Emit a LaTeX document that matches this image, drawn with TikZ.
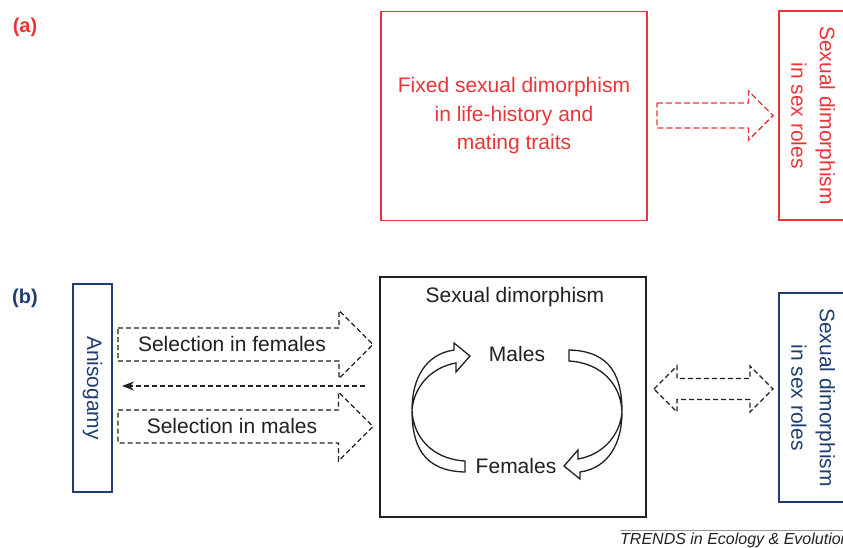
\documentclass[tikz,border=0pt]{standalone}
\usepackage{fontspec}
\setmainfont{Liberation Sans}
\usepackage{tikz}
\usetikzlibrary{
    arrows.meta,
    positioning,
    calc
}
\definecolor{Cred}{RGB}{236, 52, 56}
\definecolor{Cnavy}{RGB}{31, 61, 110}
\definecolor{Cink}{RGB}{35, 31, 32}
\definecolor{Crule}{RGB}{150, 150, 150}
\tikzset{
    redbox/.style={
        rectangle, draw=Cred, line width=1.8pt, text=Cred,
        align=center, font=\fontsize{21}{28.5}\selectfont, inner sep=0pt
    },
    navybox/.style={
        rectangle, draw=Cnavy, line width=1.5pt, text=Cnavy,
        align=center, font=\fontsize{21}{28.5}\selectfont, inner sep=0pt
    },
    inkbox/.style={
        rectangle, draw=Cink, line width=1.6pt, inner sep=0pt
    },
    lbl/.style={text=Cink, font=\fontsize{21}{25}\selectfont, inner sep=0pt},
    tag/.style={font=\fontsize{20}{24}\selectfont\bfseries, inner sep=0pt},
    redarr/.style={draw=Cred, line width=1.4pt, dash pattern=on 6pt off 3pt},
    inkarr/.style={draw=Cink, line width=1.3pt, dash pattern=on 5pt off 3pt},
    dasharr/.style={Cink, line width=1.3pt, dash pattern=on 5pt off 3pt,
        -{Stealth[length=12pt, width=9pt]}},
    ribbon/.style={draw=Cink, fill=white, line width=1.3pt, line join=miter},
}
% block arrow: style, tail, tip, half shaft, half head
\newcommand{\fatarrow}[5]{%
    \draw[#1] ($(#2)+(0,-#4)$) -- ($(#3)+(-#5,-#4)$) -- ($(#3)+(-#5,-#5)$)
        -- (#3) -- ($(#3)+(-#5,#5)$) -- ($(#3)+(-#5,#4)$) -- ($(#2)+(0,#4)$) -- cycle;}

\begin{document}
\begin{tikzpicture}[x=1pt, y=-1pt]

    \useasboundingbox (0,0) rectangle (843,547);
    \clip (0,0) rectangle (843,547);

    % (a) fixed dimorphism
    \node[tag, text=Cred] (taga) at (25,27) {(a)};
    \node[redbox, minimum width=266pt, minimum height=209pt]
        (fixed) at (514,116) {Fixed sexual dimorphism\\in life-history and\\mating traits};
    \node[redbox, rotate=-90, minimum width=209pt, minimum height=68pt]
        (rolesa) at (813,115.5) {Sexual dimorphism\\in sex roles};

    \coordinate (fa0) at (657,115.5);
    \coordinate (fa1) at (773,115.5);
    \fatarrow{redarr}{fa0}{fa1}{12.5}{24.5}

    % (b) coevolution
    \node[tag, text=Cnavy] (tagb) at (25,298) {(b)};
    \node[navybox, rotate=-90, minimum width=208pt, minimum height=39pt]
        (aniso) at (92.5,388) {Anisogamy};
    \node[inkbox, minimum width=266pt, minimum height=240pt]
        (dimo) at (513,397) {};
    \node[lbl] (dimotitle) at (515,297) {Sexual dimorphism};
    \node[lbl] (males) at (517,354) {Males};
    \node[lbl] (females) at (516,466) {Females};
    \node[navybox, rotate=-90, minimum width=209pt, minimum height=68pt]
        (rolesb) at (813,397.5) {Sexual dimorphism\\in sex roles};

    \coordinate (sf0) at (118,344.5);
    \coordinate (sf1) at (373,344.5);
    \coordinate (sm0) at (118,426.5);
    \coordinate (sm1) at (373,426.5);
    \fatarrow{inkarr}{sf0}{sf1}{16.5}{34}
    \fatarrow{inkarr}{sm0}{sm1}{16.5}{34.5}
    \node[lbl] (selfem) at (232,344) {Selection in females};
    \node[lbl] (selmal) at (232,426) {Selection in males};

    \coordinate (back0) at (365,386);
    \coordinate (back1) at (122,386);
    \draw[dasharr] (back0) -- (back1);

    % male <-> female cycle
    \draw[ribbon] (465,472) .. controls (422,471) and (412,444) .. (412,410)
        .. controls (412,378) and (426,354) .. (454,350)
        -- (454,343) -- (470,356) -- (456,372) -- (456,363)
        .. controls (432,367) and (414,386) .. (412,410)
        .. controls (413,437) and (432,459) .. (465,461) -- cycle;
    \draw[ribbon, rotate around={180:(517,411)}] (465,472) .. controls (422,471) and (412,444) .. (412,410)
        .. controls (412,378) and (426,354) .. (454,350)
        -- (454,343) -- (470,356) -- (456,372) -- (456,363)
        .. controls (432,367) and (414,386) .. (412,410)
        .. controls (413,437) and (432,459) .. (465,461) -- cycle;

    % two-way link to sex roles
    \draw[inkarr] (654,389) -- (677,366) -- (677,378.5) -- (750,378.5) -- (750,366)
        -- (773,389) -- (750,412) -- (750,399.5) -- (677,399.5) -- (677,412) -- cycle;

    % credit
    \draw[Crule, line width=0.8pt] (620,530) -- (845,530);
    \node[anchor=west, inner sep=0pt, text=Cink, font=\fontsize{16}{18}\selectfont\itshape]
        (trends) at (620,540) {TRENDS in Ecology \& Evolution};

\end{tikzpicture}
\end{document}
